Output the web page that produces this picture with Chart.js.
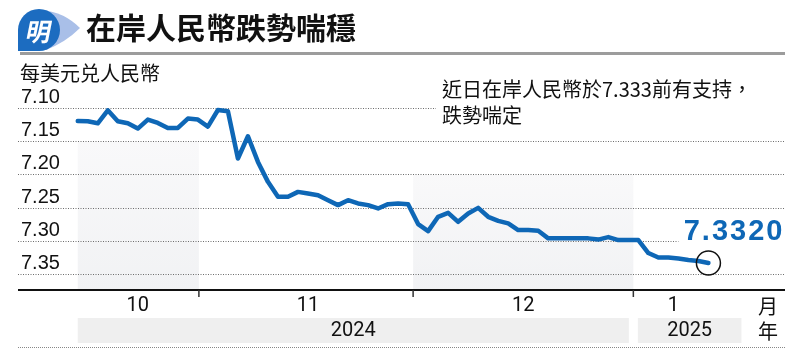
<!DOCTYPE html>
<html><head><meta charset="utf-8">
<script src="https://cdn.jsdelivr.net/npm/chart.js@4"></script>
<style>html,body{margin:0;padding:0;background:#fff}#wrap{width:800px;height:359px;position:relative}</style>
</head><body><div id="wrap"><canvas id="c" width="800" height="359"></canvas></div>
<script>
// ---------- data ----------
const dates = [
 '2024-10-15','2024-10-16','2024-10-17','2024-10-18','2024-10-21','2024-10-22','2024-10-23','2024-10-24','2024-10-25','2024-10-28','2024-10-29','2024-10-30','2024-10-31',
 '2024-11-01','2024-11-04','2024-11-05','2024-11-06','2024-11-07','2024-11-08','2024-11-11','2024-11-12','2024-11-13','2024-11-14','2024-11-15','2024-11-18','2024-11-19','2024-11-20','2024-11-21','2024-11-22','2024-11-25','2024-11-26','2024-11-27','2024-11-28','2024-11-29',
 '2024-12-02','2024-12-03','2024-12-04','2024-12-05','2024-12-06','2024-12-09','2024-12-10','2024-12-11','2024-12-12','2024-12-13','2024-12-16','2024-12-17','2024-12-18','2024-12-19','2024-12-20','2024-12-23','2024-12-24','2024-12-25','2024-12-26','2024-12-27','2024-12-30','2024-12-31',
 '2025-01-02','2025-01-03','2025-01-06','2025-01-07','2025-01-08','2025-01-09','2025-01-10','2025-01-13'
];
const rates = [
 7.1194,7.1199,7.1229,7.1034,7.1199,7.1229,7.1308,7.1173,7.1224,7.1299,7.1299,7.1158,7.1173,
 7.1278,7.1030,7.1049,7.1756,7.1423,7.1807,7.2106,7.2330,7.2330,7.2256,7.2280,7.2305,7.2380,7.2454,7.2380,7.2429,7.2454,7.2504,7.2440,7.2429,7.2440,
 7.2738,7.2843,7.2629,7.2570,7.2704,7.2579,7.2495,7.2629,7.2689,7.2728,7.2828,7.2828,7.2839,7.2952,7.2952,7.2952,7.2952,7.2952,7.2970,7.2933,7.2978,7.2978,
 7.2978,7.3172,7.3239,7.3239,7.3254,7.3277,7.3292,7.3320
];
const yTicks = [7.10, 7.15, 7.20, 7.25, 7.30, 7.35];
const monthLabels = ['10', '11', '12', '1'];
const yearLabels = ['2024', '2025'];
const unitLabels = ['月', '年'];
const titleText = '在岸人民幣跌勢喘穩';
const yTitleText = '每美元兑人民幣';
const noteLines = ['近日在岸人民幣於7.333前有支持，', '跌勢喘定'];

// ---------- helpers ----------
const BLUE = '#0e67b6';
const CJK = '"Noto Sans CJK TC","Noto Sans CJK SC",sans-serif';
const LAT = '"Liberation Sans",Arial,sans-serif';
const NARROW = '"Liberation Sans Narrow",Roboto,"Liberation Sans",sans-serif';

function groupBy(keyFn) {
  const g = [];
  dates.forEach((d, i) => {
    const k = keyFn(d);
    if (!g.length || g[g.length - 1].k !== k) g.push({ k, start: i, end: i });
    else g[g.length - 1].end = i;
  });
  return g;
}
const months = groupBy(d => d.slice(0, 7));
const years = groupBy(d => d.slice(0, 4));

// boundary between a month and the previous one, in index units
function boundary(k, o) { return months[k].start - 0.5 + (o.boundaryShift[k] || 0); }

const deco = {
  id: 'deco',
  beforeDraw(chart, args, o) {
    const { ctx, chartArea: a, scales: { x, y } } = chart;
    ctx.save();
    let s = 0;
    months.forEach((g, k) => {
      if (k % 2) return;
      const l = k === 0 ? x.getPixelForValue(g.start) : x.getPixelForValue(boundary(k, o));
      const r = x.getPixelForValue(boundary(k + 1, o));
      const top = y.getPixelForValue(o.shadeTop[s++]);
      const grd = ctx.createLinearGradient(0, top, 0, a.bottom);
      grd.addColorStop(0, '#f9f9fa');
      grd.addColorStop(1, '#f1f2f4');
      ctx.fillStyle = grd;
      ctx.fillRect(l, top, r - l, a.bottom - top);
    });
    ctx.restore();
  },
  afterDatasetsDraw(chart, args, o) {
    const { ctx, chartArea: a, scales: { x, y } } = chart;
    const n = rates.length - 1;
    const px = x.getPixelForValue(n), py = y.getPixelForValue(rates[n]);
    ctx.save();
    ctx.beginPath();
    ctx.arc(px, py, 12, 0, Math.PI * 2);
    ctx.strokeStyle = '#111';
    ctx.lineWidth = 1.5;
    ctx.stroke();
    // last value label with white backing
    ctx.fillStyle = '#fff';
    ctx.fillRect(px - 30, py - 47, a.right - px + 32, 32);
    ctx.font = 'bold 29px ' + LAT;
    ctx.letterSpacing = '2px';
    ctx.fillStyle = BLUE;
    ctx.textAlign = 'right';
    ctx.textBaseline = 'middle';
    ctx.fillText(rates[n].toFixed(4), px + 76, py - 31);
    ctx.letterSpacing = '0px';
    // annotation
    ctx.fillStyle = '#fff';
    ctx.fillRect(436, 74, a.right - 436 + 2, 52);
    ctx.fillStyle = '#111';
    ctx.textAlign = 'left';
    ctx.font = '20px ' + CJK;
    noteLines.forEach((t, i) => ctx.fillText(t, 442, 89 + i * 26));
    ctx.restore();
  },
  afterDraw(chart, args, o) {
    const { ctx, chartArea: a, scales: { x, y } } = chart;
    ctx.save();
    // header logo
    ctx.fillStyle = '#a9bfe8';
    ctx.beginPath();
    ctx.moveTo(42, 10);
    ctx.quadraticCurveTo(64, 12, 80, 28);
    ctx.quadraticCurveTo(66, 42, 46, 50);
    ctx.closePath();
    ctx.fill();
    ctx.fillStyle = '#1c6cc0';
    ctx.beginPath();
    ctx.arc(39, 30, 21, -Math.PI / 2, Math.PI / 2, false);
    ctx.lineTo(18, 51);
    ctx.lineTo(18, 30);
    ctx.arc(39, 30, 21, Math.PI, Math.PI * 1.5, false);
    ctx.closePath();
    ctx.fill();
    ctx.fillStyle = '#fff';
    ctx.font = 'bold 25px ' + CJK;
    ctx.textAlign = 'center';
    ctx.textBaseline = 'middle';
    ctx.save();
    ctx.translate(39, 31);
    ctx.transform(1, 0, -0.2, 1, 0, 0);
    ctx.fillText('明', 0, 0);
    ctx.restore();
    // title
    ctx.fillStyle = '#111';
    ctx.textAlign = 'left';
    ctx.font = 'bold 30px ' + CJK;
    ctx.fillText(titleText, 86, 28);
    // rule under title
    ctx.fillStyle = '#9c9c9c';
    ctx.fillRect(a.left + 2, 52, a.right - a.left - 2, 3);
    // y axis title
    ctx.fillStyle = '#111';
    ctx.font = '20px ' + CJK;
    ctx.fillText(yTitleText, a.left + 2, 73);
    // x axis line
    ctx.fillStyle = '#111';
    ctx.fillRect(a.left, a.bottom - 1, a.right - a.left, 2);
    // month ticks + labels
    ctx.fillStyle = '#333';
    months.forEach((g, k) => {
      if (k > 0) {
        const bx = x.getPixelForValue(boundary(k, o));
        ctx.fillRect(bx - 0.75, a.bottom, 1.5, 7);
      }
    });
    ctx.fillStyle = '#111';
    ctx.textAlign = 'center';
    ctx.font = '20px ' + NARROW;
    months.forEach((g, k) => {
      ctx.fillText(monthLabels[k], x.getPixelForValue((g.start + g.end) / 2), 306);
    });
    // year bands
    const gap = 4.5;
    years.forEach((g, k) => {
      const l = k === 0 ? x.getPixelForValue(g.start) : x.getPixelForValue(g.start - 0.5) + gap;
      const r = k === years.length - 1 ? x.getPixelForValue(g.end) + o.lastYearExtend : x.getPixelForValue(g.end + 0.5) - gap;
      ctx.fillStyle = '#efefef';
      ctx.fillRect(l, 318, r - l, 25);
      ctx.fillStyle = '#111';
      ctx.fillText(yearLabels[k], (l + r) / 2, 331);
    });
    ctx.font = '20px ' + CJK;
    ctx.fillText(unitLabels[0], 768, 306);
    ctx.fillText(unitLabels[1], 768, 331);
    // bottom dotted rule
    ctx.strokeStyle = '#888';
    ctx.lineWidth = 1;
    ctx.setLineDash([1, 1]);
    ctx.beginPath();
    ctx.moveTo(a.left, 347.5);
    ctx.lineTo(a.right, 347.5);
    ctx.stroke();
    ctx.restore();
  }
};

new Chart(document.getElementById('c'), {
  type: 'line',
  data: {
    datasets: [{
      data: rates.map((v, i) => ({ x: i, y: v })),
      borderColor: BLUE,
      borderWidth: 4.5,
      pointRadius: 0,
      tension: 0,
      clip: false,
      borderJoinStyle: 'round',
      borderCapStyle: 'round'
    }]
  },
  options: {
    responsive: false,
    animation: false,
    devicePixelRatio: 1,
    layout: { padding: { left: 12, right: 15, top: 108, bottom: 69 } },
    plugins: {
      legend: { display: false },
      tooltip: { enabled: false },
      deco: { shadeTop: [7.15, 7.20], lastYearExtend: 33, boundaryShift: [0, -0.4, 0, 0] }
    },
    scales: {
      x: { type: 'linear', display: false, min: -5.97, max: 70.65 },
      y: {
        reverse: true, min: 7.10, max: 7.3725,
        afterBuildTicks: s => { s.ticks = yTicks.map(v => ({ value: v })); },
        grid: { color: '#6d6d6d', lineWidth: 1, drawTicks: false },
        border: { display: false, dash: [1, 1.5] },
        ticks: {
          mirror: true, padding: 3, labelOffset: -11, color: '#111',
          font: { family: LAT, size: 20 },
          callback: v => Number(v).toFixed(2)
        }
      }
    }
  },
  plugins: [deco]
});
</script>
</body></html>
